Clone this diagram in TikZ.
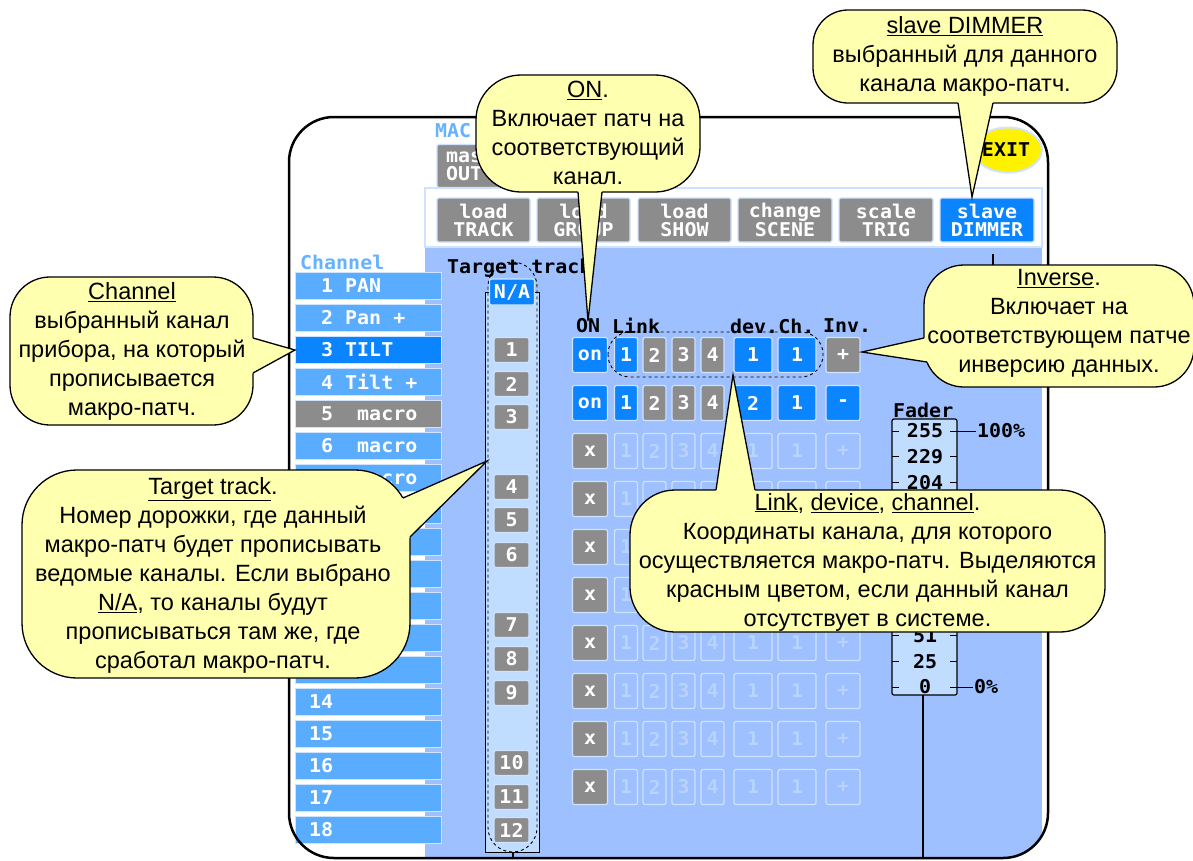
\documentclass[tikz,border=0pt]{standalone}
\usepackage{fontspec}
\setmainfont{Liberation Sans}
\newfontfamily\uifont[FakeStretch=1.05]{DejaVu Sans Mono}
\usetikzlibrary{calc,shapes.geometric}
\definecolor{panel}{HTML}{9EC0FF}
\definecolor{col}{HTML}{C0DCFF}
\definecolor{chan}{HTML}{5AACFF}
\definecolor{sel}{HTML}{0A84FF}
\definecolor{gry}{HTML}{8C8C8C}
\definecolor{edge}{HTML}{CFE3FF}
\definecolor{faintt}{HTML}{B8D3FF}
\definecolor{lbl}{HTML}{66B2FF}
\definecolor{note}{HTML}{FFFFB0}
\newcommand\us{\hphantom{0}}
\newcommand\hid[2]{\ifnum#1=1 #2\fi}
\newcommand\ptr[3]{%
  \fill[note] ($(#1)!-7pt!(#3)$) -- (#3) -- ($(#2)!-7pt!(#3)$) -- cycle;
  \draw[bline] (#1) -- (#3) -- (#2);}
\tikzset{
  ui/.style={font=\uifont\bfseries\fontsize{19}{18}\selectfont, inner sep=0pt},
  bline/.style={line width=1.3pt, line join=miter},
  bubble/.style={draw, line width=1.3pt, fill=note, rounded corners=#1, inner sep=0pt},
  ntext/.style={align=center, font=\fontsize{23.5}{29}\selectfont, inner sep=0pt},
  btn/.style={ui, rounded corners=2pt, draw=edge, line width=1.2pt, minimum height=35pt, text=white},
  onw/.style={btn, minimum width=35pt},
  lkw/.style={btn, minimum width=23pt},
  dvw/.style={btn, minimum width=38pt},
  ivw/.style={btn, minimum width=34pt},
  tab/.style={ui, align=center, text=white, draw=edge, line width=1.2pt, rounded corners=1.5pt, minimum width=93pt, minimum height=44pt},
  chb/.style={draw=edge, line width=0.8pt, minimum width=146pt, minimum height=27pt, inner sep=0pt},
  tgb/.style={ui, fill=gry, text=white, draw=edge, line width=1.2pt, rounded corners=2pt, minimum width=35pt, minimum height=25pt},
  chl/.style={ui, text=white, anchor=west},
}
\begin{document}
\begin{tikzpicture}[x=1pt,y=-1pt]
\useasboundingbox (0,0) rectangle (1193,860);
\clip (0,0) rectangle (1193,860);
\fill[white] (0,0) rectangle (1193,860);

% panel
\begin{scope}
\clip[rounded corners=45pt] (289,117) rectangle (1048,858);
\fill[panel] (425,247) rectangle (1042,858);
\end{scope}
\draw[edge, line width=2pt, fill=white] (425,188) rectangle (1042,247);

\node[ui, text=lbl, anchor=west] (mac) at (435,131) {MAC};
\node[tab, fill=gry, minimum height=43pt] (master) at (483.5,166) {};
\node[ui, text=white, anchor=west, align=left] (mastT) at (446,166) {mas\\OUT};

% tabs
\node[tab, fill=gry] (t1) at (483.5,220) {load\\TRACK};
\node[tab, fill=gry] (t2) at (583.5,220) {load\\GROUP};
\node[tab, fill=gry] (t3) at (684.5,220) {load\\SHOW};
\node[tab, fill=gry, minimum width=94pt] (t4) at (785,220) {change\\SCENE};
\node[tab, fill=gry, minimum width=94pt] (t5) at (886,220) {scale\\TRIG};
\node[tab, fill=sel, minimum width=94pt] (t6) at (987,220) {slave\\DIMMER};

% EXIT
\node[ellipse, draw=edge, line width=2pt, fill=yellow, minimum width=68pt, minimum height=45pt, inner sep=0pt] (exit) at (1008,150) {};
\node[ui] (exitT) at (1006,150) {EXIT};

% marker
\draw[gray!40, line width=1pt] (985,266) -- (1001,266);
\draw[line width=1.3pt] (993,254) -- (993,272);

% channel list
\node[ui, text=lbl, anchor=west] (chlab) at (300,262) {Channel};
\foreach \i/\c in {1/chan,2/chan,3/sel,4/chan,5/gry,6/chan,7/chan,8/chan,9/chan,10/chan,11/chan,12/chan,13/chan,14/chan,15/chan,16/chan,17/chan,18/chan}{
  \node[chb, fill=\c] (ch\i) at (368.5,{286+32*(\i-1)}) {};
}
\node[chl] (cl1) at (321,286) {1\us PAN};
\node[chl] (cl2) at (321,318) {2\us Pan\us +};
\node[chl] (cl3) at (321,350) {3\us TILT};
\node[chl] (cl4) at (321,382) {4\us Tilt\us +};
\node[chl] (cl5) at (321,414) {5\us\us macro};
\node[chl] (cl6) at (321,446) {6\us\us macro};
\node[chl] (cl7) at (321,478) {7\us\us macro};
\foreach \i in {14,...,18}{
  \node[chl] (cl\i) at (309,{286+32*(\i-1)}) {\i};
}

% target track column
\node[ui, anchor=west] (tgtlab) at (447,268) {Target track};
\draw[fill=col, line width=1pt] (485,292) rectangle (539,852);
\draw[dashed, line width=0.9pt, rounded corners=24.5pt] (488,262) rectangle (537,852);
\node[tgb, fill=sel, minimum width=45pt, minimum height=26pt] (na) at (512,292) {N/A};
\foreach \n/\y in {1/350,2/384,3/417,4/487,5/520,6/555,7/625,8/659,9/693,10/763,11/797,12/830}{
  \node[tgb] (tg\n) at (511.5,\y) {\n};
}
\coordinate (colBot) at (513,852);
\coordinate (colEnd) at (513,858);
\draw[line width=1.2pt] (colBot) -- (colEnd);

% header
\node[ui, anchor=west] (hON) at (576,326) {ON};
\node[ui, anchor=west] (hLink) at (612,326) {Link};
\node[ui, anchor=west] (hDev) at (730,326) {dev.Ch.};
\node[ui, anchor=west] (hInv) at (823,326) {Inv.};

% rows
\node[onw, fill=sel] (on1) at (590,355) {on};
\node[lkw, fill=sel] (l11) at (626,355) {1};
\node[lkw, fill=gry] (l12) at (654.5,355) {2};
\node[lkw, fill=gry] (l13) at (683.5,355) {3};
\node[lkw, fill=gry] (l14) at (712.5,355) {4};
\node[dvw, fill=sel] (dv1) at (753,355) {1};
\node[dvw, fill=sel] (cn1) at (797,355) {1};
\node[ivw, fill=gry] (iv1) at (843,355) {+};
\node[onw, fill=sel] (on2) at (590,403) {on};
\node[lkw, fill=sel] (l21) at (626,403) {1};
\node[lkw, fill=gry] (l22) at (654.5,403) {2};
\node[lkw, fill=gry] (l23) at (683.5,403) {3};
\node[lkw, fill=gry] (l24) at (712.5,403) {4};
\node[dvw, fill=sel] (dv2) at (753,403) {2};
\node[dvw, fill=sel] (cn2) at (797,403) {1};
\node[ivw, fill=sel] (iv2) at (843,403) {-};
\foreach \r/\sh in {3/1,4/0,5/0,6/0,7/1,8/1,9/1,10/1}{
  \pgfmathsetmacro\yy{355+48*(\r-1)}
  \node[onw, fill=gry] (on\r) at (590,\yy) {x};
  \node[lkw, text=faintt] (l\r1) at (626,\yy) {1};
  \node[lkw, text=faintt] (l\r2) at (654.5,\yy) {\hid{\sh}{2}};
  \node[lkw, text=faintt] (l\r3) at (683.5,\yy) {\hid{\sh}{3}};
  \node[lkw, text=faintt] (l\r4) at (712.5,\yy) {\hid{\sh}{4}};
  \node[dvw, text=faintt] (dv\r) at (753,\yy) {\hid{\sh}{1}};
  \node[dvw, text=faintt] (cn\r) at (797,\yy) {\hid{\sh}{1}};
  \node[ivw, text=faintt] (iv\r) at (843,\yy) {\hid{\sh}{+}};
}
\draw[dashed, line width=0.9pt, rounded corners=22pt] (608,332) rectangle (823,377);

% fader
\node[ui, anchor=west] (fadlab) at (893,410) {Fader};
\draw[fill=col, line width=1.2pt, rounded corners=2pt] (892,419) rectangle (957,695);
\foreach \v/\sh [count=\k from 0] in {255/1,229/1,204/1,178/0,153/0,127/0,102/0,76/0,51/1,25/1,0/1}{
  \pgfmathsetmacro\yy{431+25.6*\k}
  \node[ui] (fv\k) at (925,\yy) {\hid{\sh}{\v}};
  \draw[line width=1pt] (892,\yy) -- (899,\yy) (950,\yy) -- (957,\yy);
}
\coordinate (f100) at (976,431);
\coordinate (f0) at (973,687);
\draw[line width=1pt] (957,431) -- (f100);
\draw[line width=1pt] (957,687) -- (f0);
\node[ui, anchor=west] (p100) at (977,431) {100\%};
\node[ui, anchor=west] (p0) at (974,687) {0\%};
\coordinate (fadBot) at (923,695);
\coordinate (fadEnd) at (923,858);
\draw[line width=1.2pt] (fadBot) -- (fadEnd);

% frame
\draw[line width=2.5pt, rounded corners=45pt] (289,117) rectangle (1048,858);

% callout ON
\node[bubble=45pt, minimum width=224pt, minimum height=117pt] (bOn) at (588,133.5) {};
\coordinate (onA) at (578,192); \coordinate (onB) at (602,192); \coordinate (onTip) at (588,321);
\ptr{onA}{onB}{onTip}
\node[ntext] (tOn) at (588,133) {\underline{ON}.\\Включает патч на\\соответствующий\\канал.};

% callout slave
\node[bubble=35pt, minimum width=304pt, minimum height=93pt] (bSl) at (965,56.5) {};
\coordinate (slA) at (958,103); \coordinate (slB) at (993,103); \coordinate (slTip) at (972,197);
\ptr{slA}{slB}{slTip}
\node[ntext] (tSl) at (965,56) {\underline{slave DIMMER}\\выбранный для данного\\канала макро-патч.};

% callout Channel
\node[bubble=40pt, minimum width=243pt, minimum height=148pt] (bCh) at (131.5,351) {};
\coordinate (chA) at (253,338); \coordinate (chB) at (253,373); \coordinate (chTip) at (295,350);
\ptr{chA}{chB}{chTip}
\node[ntext] (tCh) at (132,351) {\underline{Channel}\\выбранный канал\\прибора, на который\\прописывается\\макро-патч.};

% callout Inverse
\node[bubble=40pt, minimum width=270pt, minimum height=122pt] (bIn) at (1059,326) {};
\coordinate (inA) at (924,338); \coordinate (inB) at (927,362); \coordinate (inTip) at (862,352);
\ptr{inA}{inB}{inTip}
\node[ntext] (tIn) at (1059,323) {\underline{Inverse}.\\Включает на\\соответствующем патче\\инверсию данных.};

% callout Target
\node[bubble=55pt, minimum width=388pt, minimum height=208pt] (bTg) at (216,574) {};
\coordinate (tgA) at (403,498); \coordinate (tgB) at (410,537); \coordinate (tgTip) at (487,461);
\ptr{tgA}{tgB}{tgTip}
\node[ntext] (tTg) at (213,575) {\underline{Target track}.\\Номер дорожки, где данный\\макро-патч будет прописывать\\ведомые каналы. Если выбрано\\\underline{N/A}, то каналы будут\\прописываться там же, где\\сработал макро-патч.};

% callout Link
\node[bubble=45pt, minimum width=475pt, minimum height=142pt] (bLk) at (867.5,561) {};
\coordinate (lkA) at (716,490); \coordinate (lkB) at (755,490); \coordinate (lkTip) at (733,375);
\ptr{lkA}{lkB}{lkTip}
\node[ntext] (tLk) at (867.5,562) {\underline{Link}, \underline{device}, \underline{channel}.\\Координаты канала, для которого\\осуществляется макро-патч. Выделяются\\красным цветом, если данный канал\\отсутствует в системе.};
\end{tikzpicture}
\end{document}
